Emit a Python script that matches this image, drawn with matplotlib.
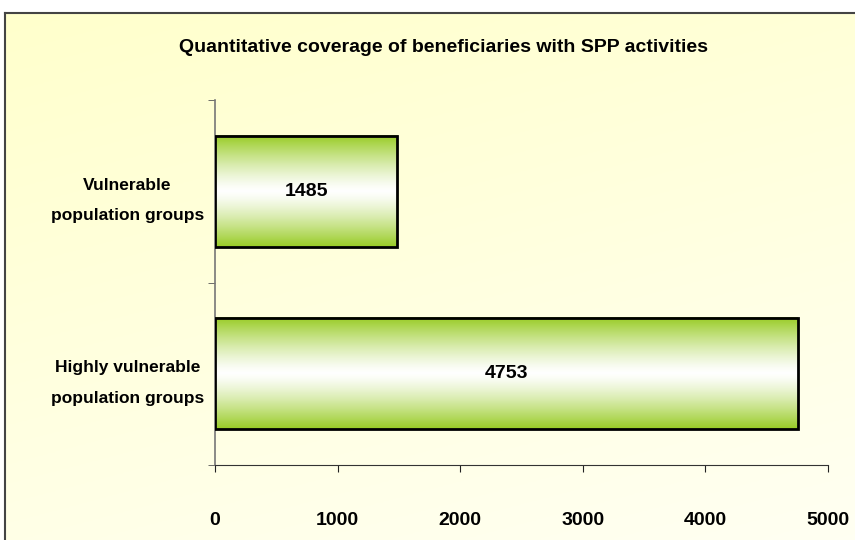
import numpy as np
import matplotlib.pyplot as plt
from matplotlib.lines import Line2D

# Data
categories = ["Highly vulnerable\npopulation groups", "Vulnerable\npopulation groups"]
values = [4753, 1485]
xticks = [0, 1000, 2000, 3000, 4000, 5000]
title = "Quantitative coverage of beneficiaries with SPP activities"

fam = ["Liberation Sans", "DejaVu Sans"]

fig = plt.figure(figsize=(8.55, 5.4), dpi=100)

# yellow background gradient inside the chart frame (top-left yellow -> bottom-right pale)
bg = fig.add_axes([5 / 855, 0, 1 - 5 / 855, 1 - 13 / 540], zorder=-10)
gx, gy = np.meshgrid(np.linspace(0, 1, 200), np.linspace(0, 1, 200))
t = np.clip((0.6 * gx + 1.4 * gy) / 2, 0, 1)
c0 = np.array([1.0, 1.0, 0.80])
c1 = np.array([1.0, 1.0, 0.95])
img = c0[None, None, :] * (1 - t[..., None]) + c1[None, None, :] * t[..., None]
bg.imshow(img, extent=(0, 1, 0, 1), aspect="auto", origin="upper")
bg.set_axis_off()

# frame lines (left and top)
fig.add_artist(Line2D([5 / 855, 5 / 855], [0, 1 - 13 / 540], color="#444444", lw=1.5))
fig.add_artist(Line2D([5 / 855, 1], [1 - 13 / 540, 1 - 13 / 540], color="#444444", lw=1.5))

ax = fig.add_axes([215 / 855, 75 / 540, 613 / 855, 365 / 540])
ax.patch.set_alpha(0)

ypos = np.arange(len(categories))
h = 0.61

# green-white-green vertical gradient for the bars
g = np.array([0.60, 0.80, 0.15])
w = np.array([1.0, 1.0, 1.0])
s = np.linspace(-1, 1, 100)
k = np.abs(s) ** 1.3
grad = g[None, :] * k[:, None] + w[None, :] * (1 - k[:, None])
grad = grad[:, None, :]

for y, v in zip(ypos, values):
    ax.imshow(grad, extent=(0, v, y - h / 2, y + h / 2), aspect="auto", zorder=2)
    ax.barh(y, v, height=h, facecolor="none", edgecolor="black", linewidth=2, zorder=3)
    ax.text(v / 2, y, str(v), ha="center", va="center", fontsize=14,
            fontweight="bold", family=fam, zorder=4)

ax.set_xlim(0, 5000)
ax.set_ylim(-0.5, len(categories) - 0.5)

ax.set_xticks(xticks)
ax.set_xticklabels([str(x) for x in xticks], fontsize=14, fontweight="bold", family=fam)
ax.tick_params(axis="x", direction="out", length=5, pad=29, color="#222222")

ax.set_yticks(ypos)
ax.set_yticklabels(categories, fontsize=12.5, fontweight="bold", family=fam, ha="center",
                   multialignment="center", linespacing=2.3)
ax.tick_params(axis="y", length=0, pad=63)
ax.set_yticks([-0.5, 0.5, 1.5], minor=True)
ax.tick_params(axis="y", which="minor", direction="out", length=5, color="#555555")

for side in ["top", "right"]:
    ax.spines[side].set_visible(False)
ax.spines["left"].set_color("#777777")
ax.spines["left"].set_linewidth(1.2)
ax.spines["bottom"].set_color("#333333")

fig.text(443 / 855, 1 - 48 / 540, title, ha="center", va="center", fontsize=14,
         fontweight="bold", family=fam)

fig.savefig("out.png", dpi=100)
